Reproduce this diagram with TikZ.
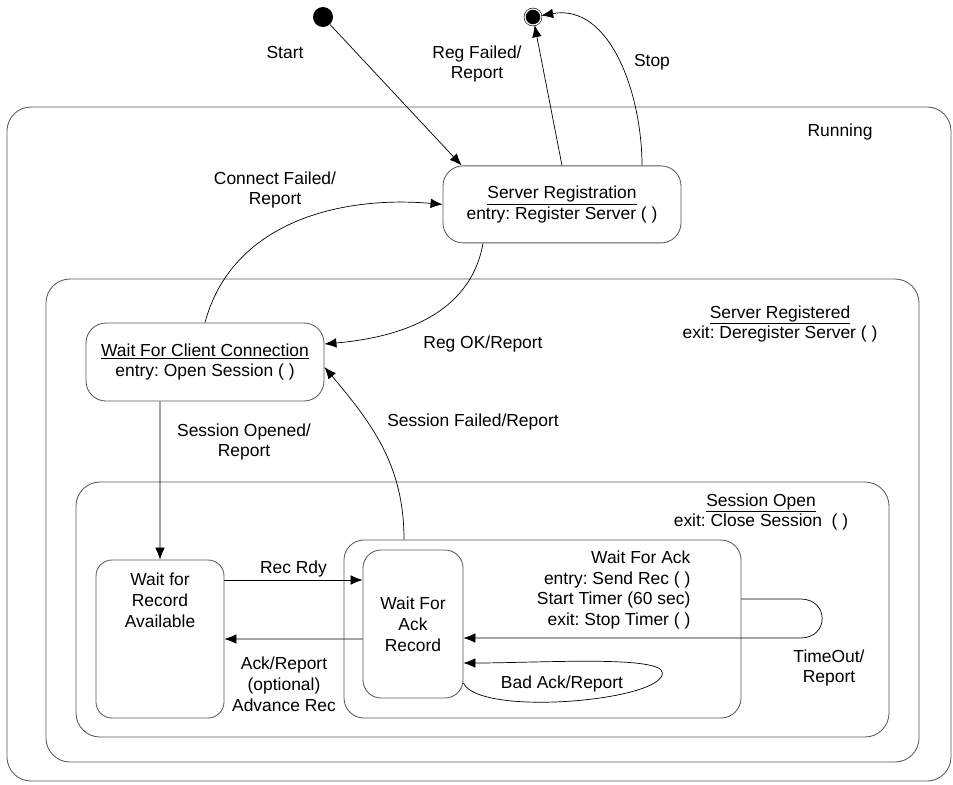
\documentclass[tikz,border=0pt]{standalone}
\usepackage{fontspec}
\setmainfont{Liberation Sans}
\usetikzlibrary{arrows.meta,positioning,calc}
\frenchspacing

\begin{document}
\begin{tikzpicture}[
  font=\fontsize{12.4}{14.9}\selectfont,
  statebox/.style={draw=black!65,rounded corners=0.5cm,line width=0.6pt,align=center,inner sep=2pt},
  superbox/.style={statebox,rounded corners=0.6cm},
  flow/.style={-{Latex[length=3mm,width=2.4mm]},line width=0.5pt},
  lab/.style={align=center,inner sep=1pt}
]
\useasboundingbox (0,0) rectangle (23.825,-19.6);
% nested superstates
\node[superbox,minimum width=23.6cm,minimum height=16.85cm] (running) at (11.975,-11.1) {};
\node[superbox,minimum width=21.825cm,minimum height=12.075cm] (sregd) at (12.0625,-13.0125) {};
\node[superbox,minimum width=20.325cm,minimum height=6.375cm] (sopen) at (12.0625,-15.2375) {};
\node[lab] (runlab) at (21.0,-3.3) {Running};
\node[lab] (sregdlab) at (19.5,-8.1) {\underline{Server Registered}\\exit: Deregister Server ( )};
\node[lab] (sopenlab) at (19.025,-12.8) {\underline{Session Open}\\exit: Close Session~~( )};
% pseudo states
\node[circle,fill,inner sep=0,minimum size=0.5cm] (init) at (8.075,-0.425) {};
\node[circle,fill,draw,double=white,double distance=0.9pt,inner sep=0,minimum size=0.4cm] (final) at (13.325,-0.425) {};
% states
\node[statebox,minimum width=5.95cm,minimum height=1.925cm] (sreg) at (14.05,-5.11) {\underline{Server Registration}\\entry: Register Server ( )};
\node[statebox,minimum width=5.95cm,minimum height=1.95cm] (wfcc) at (5.125,-9.05) {\underline{Wait For Client Connection}\\entry: Open Session ( )};
\node[statebox,rounded corners=0.4cm,minimum width=3.2cm,minimum height=3.95cm] (wfra) at (4.0,-15.975) {};
\node[lab] (wfratxt) at (4.0,-15.0) {Wait for\\Record\\Available};
\node[statebox,minimum width=9.925cm,minimum height=4.45cm] (wfa) at (13.5625,-15.725) {};
\node[lab,align=right,anchor=east] (wfatxt) at (17.3,-14.75) {Wait For Ack\\entry: Send Rec ( )\\Start Timer (60 sec)\\exit: Stop Timer ( )};
\node[statebox,rounded corners=0.45cm,minimum width=2.5cm,minimum height=3.7cm] (wfar) at (10.325,-15.6) {Wait For\\Ack\\Record};
% transitions
\draw[flow] (init) -- ([xshift=0.475cm]sreg.north west);
\draw[flow] (sreg.north) -- (final);
\draw[flow] ([xshift=2cm]sreg.north) to[out=90,in=10] (final);
\draw[flow] (wfcc.north) to[out=75,in=175] (sreg.west);
\draw[flow] ([xshift=-1.975cm]sreg.south) to[out=-100,in=5] ([yshift=0.45cm]wfcc.east);
\draw[flow] ([xshift=-3.4625cm]wfa.north) to[out=90,in=-50] ([yshift=-0.125cm]wfcc.east);
\draw[flow] ([xshift=-1.125cm]wfcc.south) -- (wfra.north);
\draw[flow] ([yshift=1.475cm]wfra.east) -- node[lab,above=1pt]{Rec Rdy} ([yshift=1.1cm]wfar.west);
\draw[flow] ([yshift=-0.375cm]wfar.west) -- (wfra.east);
\draw[flow] ([yshift=0.75cm]wfa.east) -- ++(1.475,0) .. controls +(0.725,0) and +(0.725,0) .. ++(0,-0.975) -- ([yshift=-0.35cm]wfar.east);
\draw[flow] ([yshift=-1.475cm]wfar.east) .. controls +(0.4,-0.85) and +(0,-0.7) .. ++(4.975,0.25) .. controls +(0,0.45) and +(1.9,0) .. ([yshift=-0.975cm]wfar.east);
% transition labels
\node[lab] (startlab) at (7.125,-1.3) {Start};
\node[lab] (rfaillab) at (11.925,-1.6) {Reg Failed/\\Report};
\node[lab] (stoplab) at (16.3,-1.55) {Stop};
\node[lab] (cfaillab) at (6.875,-4.75) {Connect Failed/\\Report};
\node[lab] (regoklab) at (12.075,-8.6) {Reg OK/Report};
\node[lab] (sfaillab) at (11.825,-10.55) {Session Failed/Report};
\node[lab] (sopenedlab) at (6.1,-11.05) {Session Opened/\\Report};
\node[lab] (acklab) at (7.1,-17.1) {Ack/Report\\(optional)\\Advance Rec};
\node[lab] (toutlab) at (20.725,-16.7) {TimeOut/\\Report};
\node[lab] (badlab) at (14.05,-17.1) {Bad Ack/Report};
\end{tikzpicture}
\end{document}
